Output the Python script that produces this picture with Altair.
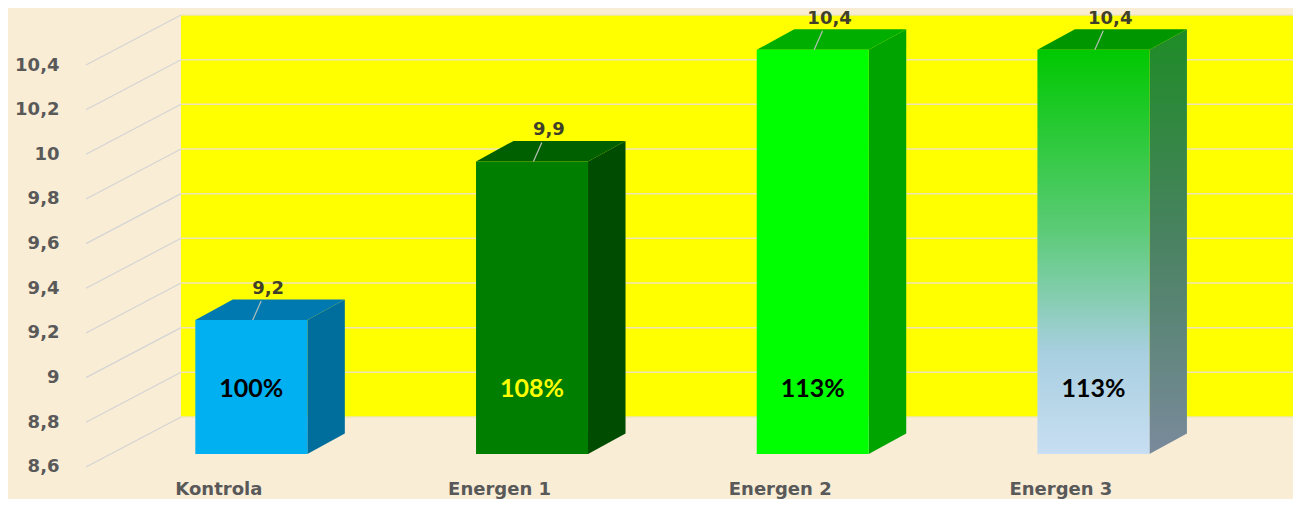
import altair as alt
import pandas as pd

# ---- data ----
categories = ["Kontrola", "Energen 1", "Energen 2", "Energen 3"]
values = [9.2, 9.91, 10.41, 10.41]
value_labels = ["9,2", "9,9", "10,4", "10,4"]
pct_labels = ["100%", "108%", "113%", "113%"]
y_ticks = [8.6, 8.8, 9.0, 9.2, 9.4, 9.6, 9.8, 10.0, 10.2, 10.4]

# ---- styles ----
front_colors = ["#00B0F0", "#007E00", "#00FF00", "#00C800"]
side_colors = ["#006E9C", "#004C00", "#00A400", "#2A8A3A"]
top_colors = ["#0079B0", "#006000", "#00AE00", "#009600"]
pct_colors = ["#000000", "#FFFF00", "#000000", "#000000"]

# ---- 3D geometry (slot units along x, value units along y) ----
X_MIN, X_MAX = -0.5, 3.8
Y_MIN, Y_MAX = 8.5863, 10.6553
DX0, DY0 = 0.089, 0.0582      # bar front plane offset
HW = 0.1995                   # half width of bar front
DDX, DDY = 0.1336, 0.0918     # bar depth
WDX, WDY = 0.3384, 0.2239     # back wall depth
BASE = y_ticks[0]
TOP = y_ticks[-1]

idx = list(range(len(categories)))
df = pd.DataFrame({"name": categories, "value": values, "vlab": value_labels,
                   "pct": pct_labels, "i": idx})
df["xl"] = df["i"] + DX0 - HW
df["xr"] = df["i"] + DX0 + HW
df["xc"] = df["i"] + DX0
df["yb"] = BASE + DY0
df["yt"] = df["value"] + DY0
df["lx1"] = df["xc"] + 0.005
df["lx2"] = df["xc"] + 0.035
df["ly2"] = df["yt"] + 0.085
df["tx"] = df["xc"] + 0.06
df["ty"] = df["yt"] + 0.14
df["py"] = 8.95

side_rows, top_rows = [], []
for r in df.to_dict("records"):
    side_rows.append({"name": r["name"], "x": r["xr"], "y": r["yt"], "y2": r["yb"]})
    side_rows.append({"name": r["name"], "x": r["xr"] + DDX, "y": r["yt"] + DDY, "y2": r["yb"] + DDY})
    top_rows.append({"name": r["name"], "y": r["yt"], "x": r["xl"], "x2": r["xr"]})
    top_rows.append({"name": r["name"], "y": r["yt"] + DDY, "x": r["xl"] + DDX, "x2": r["xr"] + DDX})
side_df = pd.DataFrame(side_rows)
top_df = pd.DataFrame(top_rows)

wall_df = pd.DataFrame({"x": [X_MIN + WDX], "x2": [X_MAX],
                        "y": [BASE + WDY], "y2": [TOP + WDY]})
grid_df = pd.DataFrame({"t": y_ticks})
grid_df["gy"] = grid_df["t"] + WDY
grid_df["wx1"] = X_MIN + WDX
grid_df["wx2"] = X_MAX
grid_df["dx1"] = X_MIN

FONT = "DejaVu Sans"
xs = alt.Scale(domain=[X_MIN, X_MAX], nice=False, zero=False)
ys = alt.Scale(domain=[Y_MIN, Y_MAX], nice=False, zero=False)

x_axis = alt.Axis(values=idx, title=None, grid=False, domain=False, ticks=False,
                  labelExpr="%s[datum.value]" % str(categories),
                  labelFont=FONT, labelFontWeight="bold", labelFontSize=18,
                  labelColor="#595959", labelPadding=10, labelOffset=-8)
y_axis = alt.Axis(values=y_ticks, title=None, grid=False, domain=False, ticks=False,
                  labelExpr="replace(format(datum.value, '.1~f'), '.', ',')",
                  labelFont=FONT, labelFontWeight="bold", labelFontSize=18,
                  labelColor="#595959", labelPadding=27)


def X(f):
    return alt.X(f, type="quantitative", scale=xs, axis=x_axis)


def Y(f):
    return alt.Y(f, type="quantitative", scale=ys, axis=y_axis)


def cscale(field, rng):
    return alt.Color(field, type="nominal",
                     scale=alt.Scale(domain=categories, range=rng), legend=None)


wall = alt.Chart(wall_df).mark_rect(color="#FFFF00").encode(
    x=X("x"), x2="x2", y=Y("y"), y2="y2")
wall_grid = alt.Chart(grid_df).mark_rule(color="#EFE6B8", strokeWidth=1.5).encode(
    x=X("wx1"), x2="wx2", y=Y("gy"))
diag = alt.Chart(grid_df).mark_rule(color="#D4D4D4", strokeWidth=1.2).encode(
    x=X("dx1"), x2="wx1", y=Y("t"), y2="gy")

not3 = "datum.name != 'Energen 3'"
is3 = "datum.name == 'Energen 3'"

side = alt.Chart(side_df).transform_filter(not3).mark_area().encode(
    x=X("x"), y=Y("y"), y2="y2", color=cscale("name", side_colors))
side3 = alt.Chart(side_df).transform_filter(is3).mark_area(
    color=alt.Gradient(gradient="linear", x1=0, y1=0, x2=0, y2=1,
                       stops=[alt.GradientStop(color="#1E8C26", offset=0),
                              alt.GradientStop(color="#4A8262", offset=0.5),
                              alt.GradientStop(color="#7A8A9C", offset=1)])
).encode(x=X("x"), y=Y("y"), y2="y2")

top = alt.Chart(top_df).mark_area(orient="horizontal").encode(
    y=Y("y"), x=X("x"), x2="x2", color=cscale("name", top_colors))

front = alt.Chart(df).transform_filter(not3).mark_rect().encode(
    x=X("xl"), x2="xr", y=Y("yb"), y2="yt", color=cscale("name", front_colors))
front3 = alt.Chart(df).transform_filter(is3).mark_rect(
    color=alt.Gradient(gradient="linear", x1=0, y1=0, x2=0, y2=1,
                       stops=[alt.GradientStop(color="#00C800", offset=0),
                              alt.GradientStop(color="#5CCB78", offset=0.45),
                              alt.GradientStop(color="#A8CFE0", offset=0.75),
                              alt.GradientStop(color="#C8DEF2", offset=1)])
).encode(x=X("xl"), x2="xr", y=Y("yb"), y2="yt")

leader = alt.Chart(df).mark_rule(color="#B8C0B8", strokeWidth=1.2).encode(
    x=X("lx1"), x2="lx2", y=Y("yt"), y2="ly2")
vlabels = alt.Chart(df).mark_text(font=FONT, fontWeight="bold", fontSize=18,
                                  color="#40402A", baseline="middle").encode(
    x=X("tx"), y=Y("ty"), text="vlab:N")
plabels = alt.Chart(df).mark_text(font="Lato", fontWeight="bold", fontSize=25,
                                  baseline="middle").encode(
    x=X("xc"), y=Y("py"), text="pct:N", color=cscale("name", pct_colors))

chart = alt.layer(wall, wall_grid, diag, side, side3, top, front, front3,
                  leader, vlabels, plabels).resolve_scale(
    color="independent"
).properties(
    width=1207, height=462,
    padding={"left": 78, "top": 0, "right": 0, "bottom": 29},
    autosize=alt.AutoSizeParams(type="none"),
    background="#F9EDD6",
).configure_view(strokeWidth=0)

chart.save("out.html", embed_options={"renderer": "svg", "actions": False})
